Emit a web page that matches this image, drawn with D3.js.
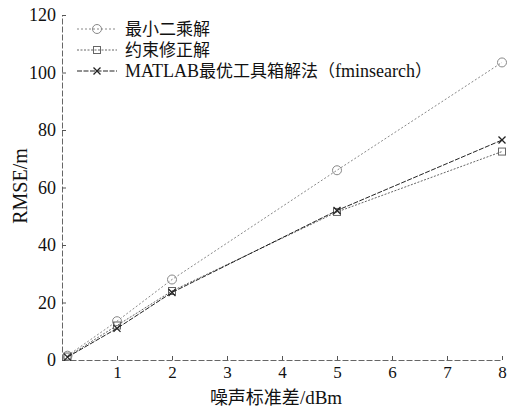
<!DOCTYPE html>
<html>
<head>
<meta charset="utf-8">
<script src="https://cdn.jsdelivr.net/npm/d3@7"></script>
<style>
body { margin: 0; background: #fff; }
text { font-family: "Liberation Serif", "Noto Sans CJK SC", serif; }
</style>
</head>
<body>
<div id="chart"></div>
<script>
var noise = [0.1, 1, 2, 5, 8];
var lsq = [1.5, 13.5, 28, 66, 103.5];
var constrained = [1.2, 12, 24, 51.5, 72.5];
var fmin = [1, 11, 23.5, 52, 76.5];
var seriesNames = ["最小二乘解", "约束修正解", "MATLAB最优工具箱解法（fminsearch）"];
var xTicks = [1, 2, 3, 4, 5, 6, 7, 8];
var yTicks = [0, 20, 40, 60, 80, 100, 120];

var W = 513, H = 409;
var margin = {top: 15, right: 11, bottom: 49, left: 62};

var svg = d3.select("#chart").append("svg")
    .attr("width", W)
    .attr("height", H);

var x = d3.scaleLinear().domain([0, 8]).range([margin.left, W - margin.right]);
var y = d3.scaleLinear().domain([0, 120]).range([H - margin.bottom, margin.top]);

// mixed text: CJK runs and latin runs get their own sizes
function mixedText(sel, str, cjkSize, latinSize) {
    var runs = str.match(/[\u3000-\u9fff\uff00-\uffef]+|[^\u3000-\u9fff\uff00-\uffef]+/g);
    runs.forEach(function(r) {
        var cjk = /[\u3000-\u9fff\uff00-\uffef]/.test(r);
        sel.append("tspan")
            .attr("font-family", cjk ? "Noto Sans CJK SC" : "Liberation Serif")
            .attr("font-size", (cjk ? cjkSize : latinSize) + "px")
            .text(r);
    });
}

// axes, ticks pointing inward
var xAxis = svg.append("g")
    .attr("transform", "translate(0," + y(0) + ")")
    .call(d3.axisBottom(x).tickValues(xTicks).tickSizeInner(-4).tickSizeOuter(0).tickPadding(6));
var yAxis = svg.append("g")
    .attr("transform", "translate(" + x(0) + ",0)")
    .call(d3.axisLeft(y).tickValues(yTicks).tickSizeInner(-4).tickSizeOuter(0).tickPadding(6));

[xAxis, yAxis].forEach(function(a) {
    a.select(".domain").attr("stroke", "#666").attr("stroke-dasharray", "6,2");
    a.selectAll(".tick line").attr("stroke", "#555");
    a.selectAll(".tick text").attr("font-size", "18px").attr("fill", "#111")
        .attr("font-family", "Liberation Serif");
});
xAxis.selectAll(".tick text").attr("font-size", "17px");

svg.append("text")
    .attr("x", 276)
    .attr("y", 404)
    .attr("text-anchor", "middle")
    .attr("fill", "#111")
    .call(mixedText, "噪声标准差/dBm", 18, 19);

svg.append("text")
    .attr("transform", "translate(27,186) rotate(-90)")
    .attr("text-anchor", "middle")
    .attr("font-size", "20px")
    .attr("fill", "#111")
    .text("RMSE/m");

var series = [
    {name: seriesNames[0], values: lsq, color: "#888", dash: "2,2", width: 1, marker: "circle"},
    {name: seriesNames[1], values: constrained, color: "#666", dash: "2,1.5", width: 1, marker: "square"},
    {name: seriesNames[2], values: fmin, color: "#222", dash: "5,1.5", width: 1, marker: "x"}
];

var line = d3.line()
    .x(function(d, i) { return x(noise[i]); })
    .y(function(d) { return y(d); });

function drawMarker(g, type, cx, cy, color) {
    if (type === "circle") {
        g.append("circle").attr("cx", cx).attr("cy", cy).attr("r", 4.5)
            .attr("fill", "none").attr("stroke", color).attr("stroke-width", 1);
    } else if (type === "square") {
        g.append("rect").attr("x", cx - 3.5).attr("y", cy - 3.5).attr("width", 7).attr("height", 7)
            .attr("fill", "none").attr("stroke", color).attr("stroke-width", 1);
    } else {
        g.append("path")
            .attr("d", "M" + (cx - 3.5) + "," + (cy - 3.5) + "L" + (cx + 3.5) + "," + (cy + 3.5) +
                "M" + (cx - 3.5) + "," + (cy + 3.5) + "L" + (cx + 3.5) + "," + (cy - 3.5))
            .attr("stroke", color).attr("stroke-width", 1.3);
    }
}

series.forEach(function(s) {
    svg.append("path")
        .datum(s.values)
        .attr("d", line)
        .attr("fill", "none")
        .attr("stroke", s.color)
        .attr("stroke-width", s.width)
        .attr("stroke-dasharray", s.dash);
    var g = svg.append("g");
    s.values.forEach(function(v, i) {
        drawMarker(g, s.marker, x(noise[i]), y(v), s.color);
    });
});

// legend
var legend = svg.append("g");
series.forEach(function(s, i) {
    var ly = 29 + i * 21;
    legend.append("line")
        .attr("x1", 77).attr("x2", 117)
        .attr("y1", ly).attr("y2", ly)
        .attr("stroke", s.color)
        .attr("stroke-dasharray", s.dash);
    drawMarker(legend, s.marker, 97, ly, s.color);
    legend.append("text")
        .attr("x", 125).attr("y", ly + 6)
        .attr("fill", "#111")
        .call(mixedText, s.name, 17, 18);
});
</script>
</body>
</html>
